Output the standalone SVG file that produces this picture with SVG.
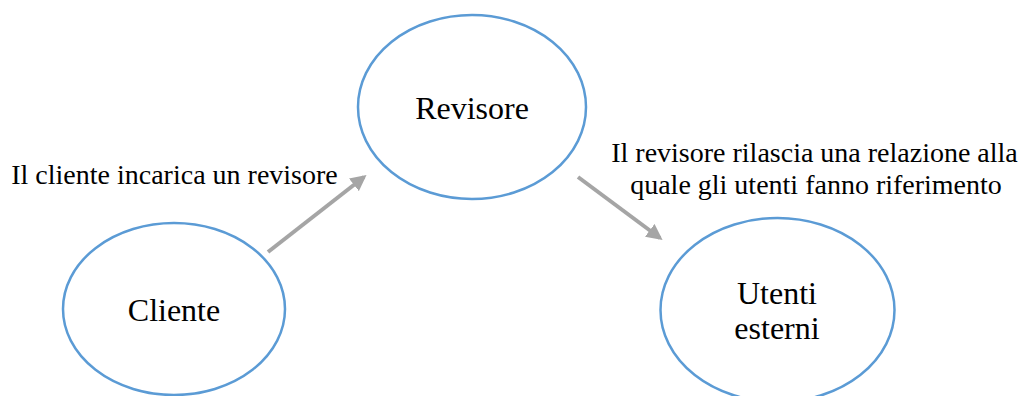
<svg xmlns="http://www.w3.org/2000/svg" width="1023" height="396" viewBox="0 0 1023 396">
  <style>
    .node { fill: #ffffff; stroke: #5b9bd5; stroke-width: 2.5; }
    .label { font-family: "Liberation Serif", "Times New Roman", serif; fill: #000000; text-anchor: middle; }
    .nlabel { font-size: 32px; }
    .elabel { font-size: 28px; }
    .link { stroke: #a5a5a5; stroke-width: 4; fill: none; }
  </style>
  <defs>
    <marker id="arrow" viewBox="0 0 10 10" refX="8" refY="5" markerWidth="4" markerHeight="4" orient="auto" markerUnits="strokeWidth">
      <path d="M0,0 L10,5 L0,10 Z" fill="#a5a5a5"/>
    </marker>
  </defs>
  <rect width="1023" height="396" fill="#ffffff"/>

  <g id="revisore">
    <ellipse class="node" cx="472" cy="107" rx="114" ry="92"/>
    <text class="label nlabel" x="472" y="119">Revisore</text>
  </g>

  <g id="cliente">
    <ellipse class="node" cx="174" cy="309" rx="111" ry="86"/>
    <text class="label nlabel" x="174" y="321">Cliente</text>
  </g>

  <g id="utenti-esterni">
    <ellipse class="node" cx="777.5" cy="310" rx="117" ry="92"/>
    <text class="label nlabel" x="777" y="304">Utenti</text>
    <text class="label nlabel" x="777" y="339">esterni</text>
  </g>

  <g id="connectors">
    <line class="link" x1="268" y1="252" x2="364" y2="177" marker-end="url(#arrow)"/>
    <line class="link" x1="578" y1="177" x2="660" y2="238" marker-end="url(#arrow)"/>
    <text class="label elabel" x="174.5" y="184">Il cliente incarica un revisore</text>
    <text class="label elabel" x="814.5" y="162">Il revisore rilascia una relazione alla</text>
    <text class="label elabel" x="816" y="194">quale gli utenti fanno riferimento</text>
  </g>
</svg>
